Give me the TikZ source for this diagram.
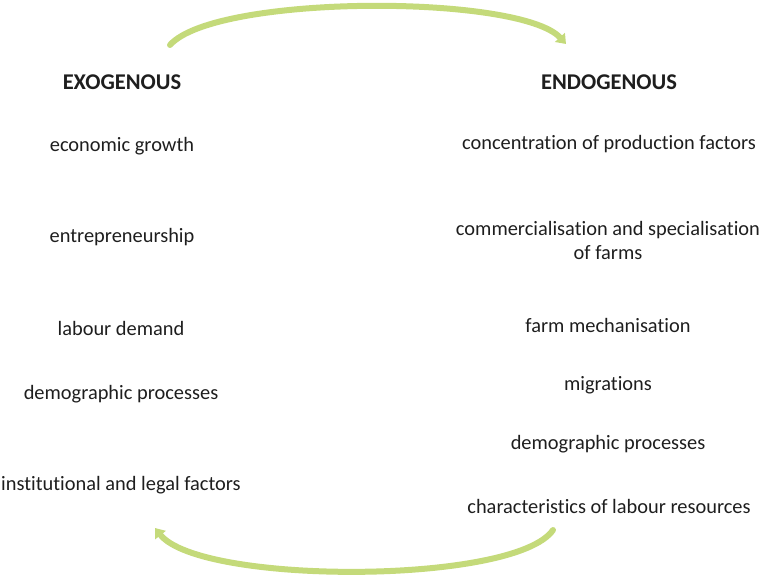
\documentclass[tikz,border=0pt]{standalone}
\usepackage{fontspec}
\setmainfont{Carlito}[Ligatures=NoCommon]
\usetikzlibrary{arrows.meta,positioning}
\definecolor{leaf}{RGB}{196,218,122}
\definecolor{ink}{RGB}{30,30,30}
\tikzset{
  factor/.style={font=\fontsize{20.4}{24}\selectfont,text=ink,align=center,inner sep=1pt},
  head/.style={factor,font=\fontsize{22.5}{24}\selectfont\bfseries},
  cycle/.style={-{Triangle[length=9pt,width=13pt]},line width=6pt,leaf,line cap=round},
}
\begin{document}
\begin{tikzpicture}[x=1pt,y=-1pt]
  \useasboundingbox (0,0) rectangle (759,575);
  % column heads
  \node[head] (exo) at (122,82) {EXOGENOUS};
  \node[head] (endo) at (609,82) {ENDOGENOUS};
  % exogenous factors
  \node[factor] (growth) at (122,146) {economic growth};
  \node[factor] (entre) at (122,237) {entrepreneurship};
  \node[factor] (labour) at (121,328) {labour demand};
  \node[factor] (demoL) at (121,394) {demographic processes};
  \node[factor] (legal) at (121,485) {institutional and legal factors};
  % endogenous factors
  \node[factor] (conc) at (609,144) {concentration of production factors};
  \node[factor] (comm) at (608,240) {commercialisation and specialisation\\of farms};
  \node[factor] (mech) at (608,325) {farm mechanisation};
  \node[factor] (migr) at (608,385) {migrations};
  \node[factor] (demoR) at (608,444) {demographic processes};
  \node[factor] (chars) at (609,506) {characteristics of labour resources};
  % feedback arcs
  \coordinate (topL) at (170,45);
  \coordinate (topR) at (566,44);
  \coordinate (botR) at (553,530);
  \coordinate (botL) at (155,528);
  \draw[cycle] (topL) .. controls (215,-6) and (520,-6) .. (topR);
  \draw[cycle] (botR) .. controls (515,585) and (200,585) .. (botL);
\end{tikzpicture}
\end{document}
